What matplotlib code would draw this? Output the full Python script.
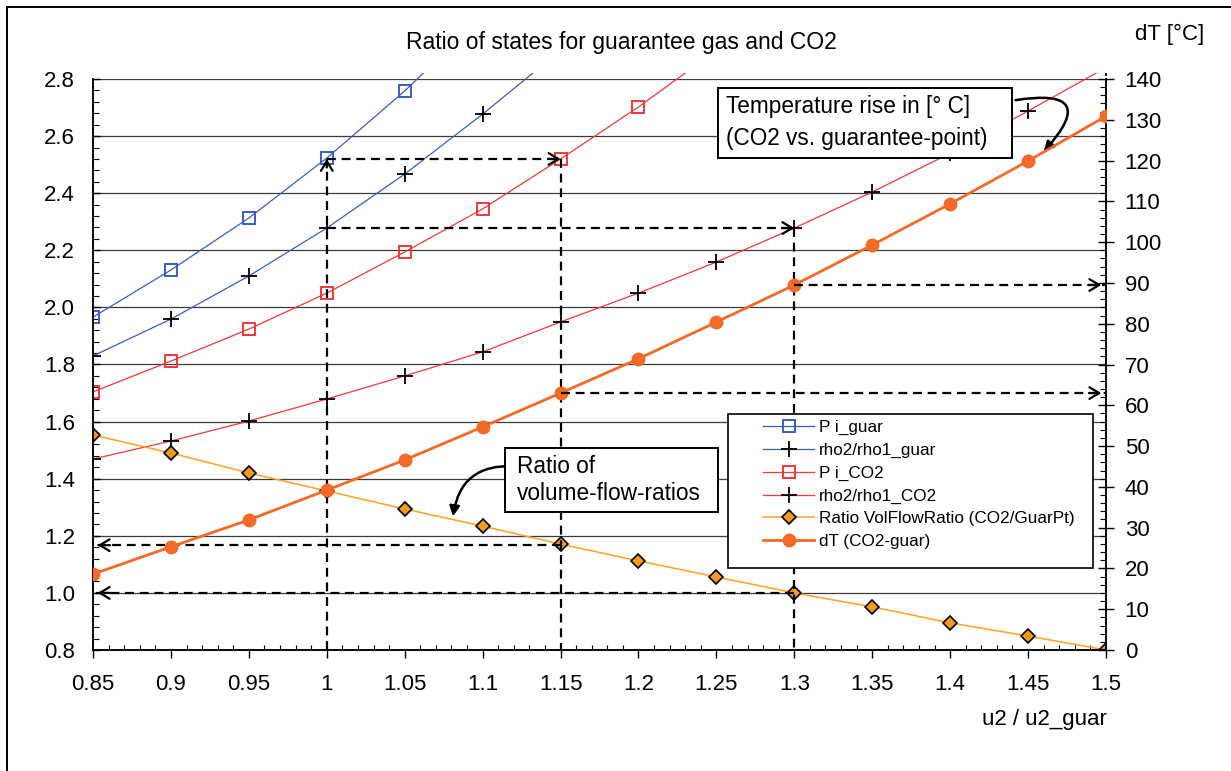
import numpy as np
import matplotlib
matplotlib.use('Agg')
import matplotlib.pyplot as plt
from matplotlib.patches import Rectangle
from matplotlib.ticker import MultipleLocator, FormatStrFormatter, FuncFormatter

plt.rcParams['font.family'] = ['Liberation Sans', 'DejaVu Sans']

# data
u = [0.85, 0.9, 0.95, 1.0, 1.05, 1.1, 1.15, 1.2, 1.25, 1.3, 1.35, 1.4, 1.45, 1.5]
pi_guar = [1.966, 2.131, 2.313, 2.523, 2.758, 3.02]
rho_guar = [1.83, 1.959, 2.11, 2.278, 2.467, 2.677, 2.90]
pi_co2 = [1.704, 1.812, 1.924, 2.05, 2.194, 2.345, 2.52, 2.702, 2.90]
rho_co2 = [1.469, 1.532, 1.602, 1.679, 1.76, 1.844, 1.949, 2.05, 2.159, 2.278,
           2.404, 2.54, 2.688, 2.84]
vol_ratio = [1.553, 1.49, 1.42, 1.357, 1.294, 1.234, 1.171, 1.112, 1.056, 1.0,
             0.951, 0.895, 0.849, 0.8]
dT = [18.6, 25.3, 31.9, 39.2, 46.6, 54.7, 63.0, 71.4, 80.4, 89.5, 99.3, 109.4,
      119.9, 130.9]
labels = ['P i_guar', 'rho2/rho1_guar', 'P i_CO2', 'rho2/rho1_CO2',
          'Ratio VolFlowRatio (CO2/GuarPt)', 'dT (CO2-guar)']

# read-off points for the dashed guide lines
u_a, u_b, u_c = 1.0, 1.15, 1.3
pi_ref = 2.52
rho_ref = 2.278
ratio_b, ratio_c = 1.167, 1.0
dT_b, dT_c = 63.0, 89.5

c_blue = '#3a5dbf'
c_red = '#f23838'
c_orange = '#ffa126'
c_dia = '#f39a1c'
c_dT = '#f26a26'

W, H = 1231, 771
fig = plt.figure(figsize=(12.31, 7.71), dpi=100)
ax = fig.add_axes([93 / W, 1 - 650 / H, 1013 / W, 571 / H])
ax2 = ax.twinx()

# clip lines a bit above the top like excel does
clip = Rectangle((0, 0), 1, 1.011, transform=ax.transAxes, visible=False)
ax.add_patch(clip)

l1, = ax.plot(u[:len(pi_guar)], pi_guar, color=c_blue, lw=0.9, marker='s', ms=8,
              mfc='none', mec=c_blue, mew=1.4, label=labels[0])
l2, = ax.plot(u[:len(rho_guar)], rho_guar, color=c_blue, lw=0.9, marker='+', ms=11,
              mec='black', mew=1.3, label=labels[1])
l3, = ax.plot(u[:len(pi_co2)], pi_co2, color=c_red, lw=0.9, marker='s', ms=8,
              mfc='none', mec=c_red, mew=1.4, label=labels[2])
l4, = ax.plot(u, rho_co2, color=c_red, lw=0.9, marker='+', ms=11,
              mec='black', mew=1.3, label=labels[3])
l5, = ax.plot(u, vol_ratio, color=c_orange, lw=1.1, marker='D', ms=7,
              mfc=c_dia, mec='black', mew=1.2, label=labels[4])
for ln in (l1, l2, l3, l4):
    ln.set_clip_path(clip)

l6, = ax2.plot(u, dT, color=c_dT, lw=2, marker='o', ms=9, mfc=c_dT, mec=c_dT,
               label=labels[5], zorder=3)

# dashed guide lines
dash = dict(color='black', lw=1.6, ls=(0, (4, 2.6)), zorder=4)
ax.plot([u_a, u_a], [0.8, pi_ref], **dash)
ax.plot([u_a, u_b], [pi_ref, pi_ref], **dash)
ax.plot([u_b, u_b], [pi_ref, 0.8], **dash)
ax.plot([u_a, u_c], [rho_ref, rho_ref], **dash)
ax.plot([u_c, u_c], [rho_ref, 0.8], **dash)
ax.plot([u_b, 0.85], [ratio_b, ratio_b], **dash)
ax.plot([u_c, 0.85], [ratio_c, ratio_c], **dash)
ax2.plot([u_c, 1.5], [dT_c, dT_c], **dash)
ax2.plot([u_b, 1.5], [dT_b, dT_b], **dash)

head = dict(arrowstyle='->,head_length=0.5,head_width=0.3', lw=1.6, color='black',
            shrinkA=0, shrinkB=0, mutation_scale=14)


def tip(a, xy, dx, dy):
    a.annotate('', xy=xy, xytext=(xy[0] - dx, xy[1] - dy), arrowprops=head, zorder=5)


tip(ax, (u_a, pi_ref), 0, 0.03)
tip(ax, (u_b, pi_ref), 0.008, 0)
tip(ax, (u_c, rho_ref), 0.008, 0)
tip(ax, (0.853, ratio_b), -0.008, 0)
tip(ax, (0.853, ratio_c), -0.008, 0)
tip(ax2, (1.497, dT_c), 0.008, 0)
tip(ax2, (1.497, dT_b), 0.008, 0)

# axes limits and ticks
ax.set_xlim(0.85, 1.5)
ax.set_ylim(0.8, 2.8)
ax2.set_ylim(0, 140)
ax.xaxis.set_major_locator(MultipleLocator(0.05))
ax.xaxis.set_minor_locator(MultipleLocator(0.01))
ax.xaxis.set_major_formatter(FuncFormatter(lambda v, p: f'{v:g}'))
ax.yaxis.set_major_locator(MultipleLocator(0.2))
ax.yaxis.set_minor_locator(MultipleLocator(0.04))
ax.yaxis.set_major_formatter(FormatStrFormatter('%.1f'))
ax2.yaxis.set_major_locator(MultipleLocator(10))
ax2.yaxis.set_minor_locator(MultipleLocator(2))

ax.tick_params(axis='x', which='major', direction='out', length=6, width=1,
               labelsize=16, pad=11)
ax.tick_params(axis='x', which='minor', direction='in', length=3.6, width=0.8)
ax.tick_params(axis='y', which='major', direction='in', length=5, width=1,
               labelsize=16, pad=13)
ax.tick_params(axis='y', which='minor', direction='in', length=4.3, width=0.8)
ax2.tick_params(axis='y', which='major', direction='inout', length=11, width=1,
                labelsize=16, pad=8)
ax2.tick_params(axis='y', which='minor', direction='in', length=4.3, width=0.8)

ax.grid(axis='y', which='major', color='#3c3c3c', lw=0.9)
ax.set_axisbelow(True)
for a in (ax, ax2):
    a.spines['top'].set_visible(False)
    for s in ('left', 'bottom', 'right'):
        a.spines[s].set_color('black')
        a.spines[s].set_linewidth(1.1)
ax2.patch.set_visible(False)


def ax_pt(px, py):
    return ((px - 93) / 1013, (650 - py) / 571)


# legend: frame drawn separately, wide left margin like the original
lx0, ly0 = ax_pt(728, 568)
lx1, ly1 = ax_pt(1093, 414)
ax2.add_patch(Rectangle((lx0, ly0), lx1 - lx0, ly1 - ly0, transform=ax2.transAxes,
                        facecolor='white', edgecolor='black', lw=1.2, zorder=9,
                        clip_on=False))
leg = ax2.legend(handles=[l1, l2, l3, l4, l5, l6], loc='upper left',
                 bbox_to_anchor=ax_pt(763, 420), fontsize=12.3, frameon=False,
                 handlelength=3, handletextpad=0.3, borderpad=0,
                 labelspacing=0.45, borderaxespad=0)
leg.set_zorder(10)

# curved annotation arrows
curve = dict(arrowstyle='-|>,head_length=0.5,head_width=0.25', lw=1.8, color='black',
             shrinkA=0, shrinkB=0, mutation_scale=12)
ax.annotate('', xy=(1.460, 2.545), xytext=(1.442, 2.726),
            arrowprops=dict(connectionstyle='arc3,rad=-1.4', **curve), zorder=6)
ax.annotate('', xy=(1.081, 1.268), xytext=(1.120, 1.444),
            arrowprops=dict(connectionstyle='arc3,rad=0.45', **curve), zorder=6)


# text boxes
def box(x0, y0, x1, y1):
    fig.patches.append(Rectangle((x0 / W, 1 - y1 / H), (x1 - x0) / W, (y1 - y0) / H,
                                 transform=fig.transFigure, facecolor='white',
                                 edgecolor='black', lw=1.4, zorder=5))


box(718, 88, 1012, 158)
fig.text(726 / W, 1 - 123 / H, 'Temperature rise in [° C]\n(CO2 vs. guarantee-point)',
         fontsize=16.3, ha='left', va='center', linespacing=1.5, zorder=6)
box(505, 448, 718, 512)
fig.text(517 / W, 1 - 480 / H, 'Ratio of\nvolume-flow-ratios',
         fontsize=16.3, ha='left', va='center', linespacing=1.25, zorder=6)

# titles and labels
fig.text(621 / W, 1 - 42 / H, 'Ratio of states for guarantee gas and CO2',
         fontsize=16.5, ha='center', va='center')
fig.text(1170 / W, 1 - 34 / H, 'dT [°C]', fontsize=16, ha='center', va='center')
fig.text(1107 / W, 1 - 720 / H, 'u2 / u2_guar', fontsize=16, ha='right', va='center')

# outer chart border
fig.patches.append(Rectangle((7 / W, -0.05), 1.1, 1.05 - 7 / H, transform=fig.transFigure,
                             fill=False, edgecolor='black', lw=1.4, zorder=0))

fig.savefig('out.png', dpi=100)
